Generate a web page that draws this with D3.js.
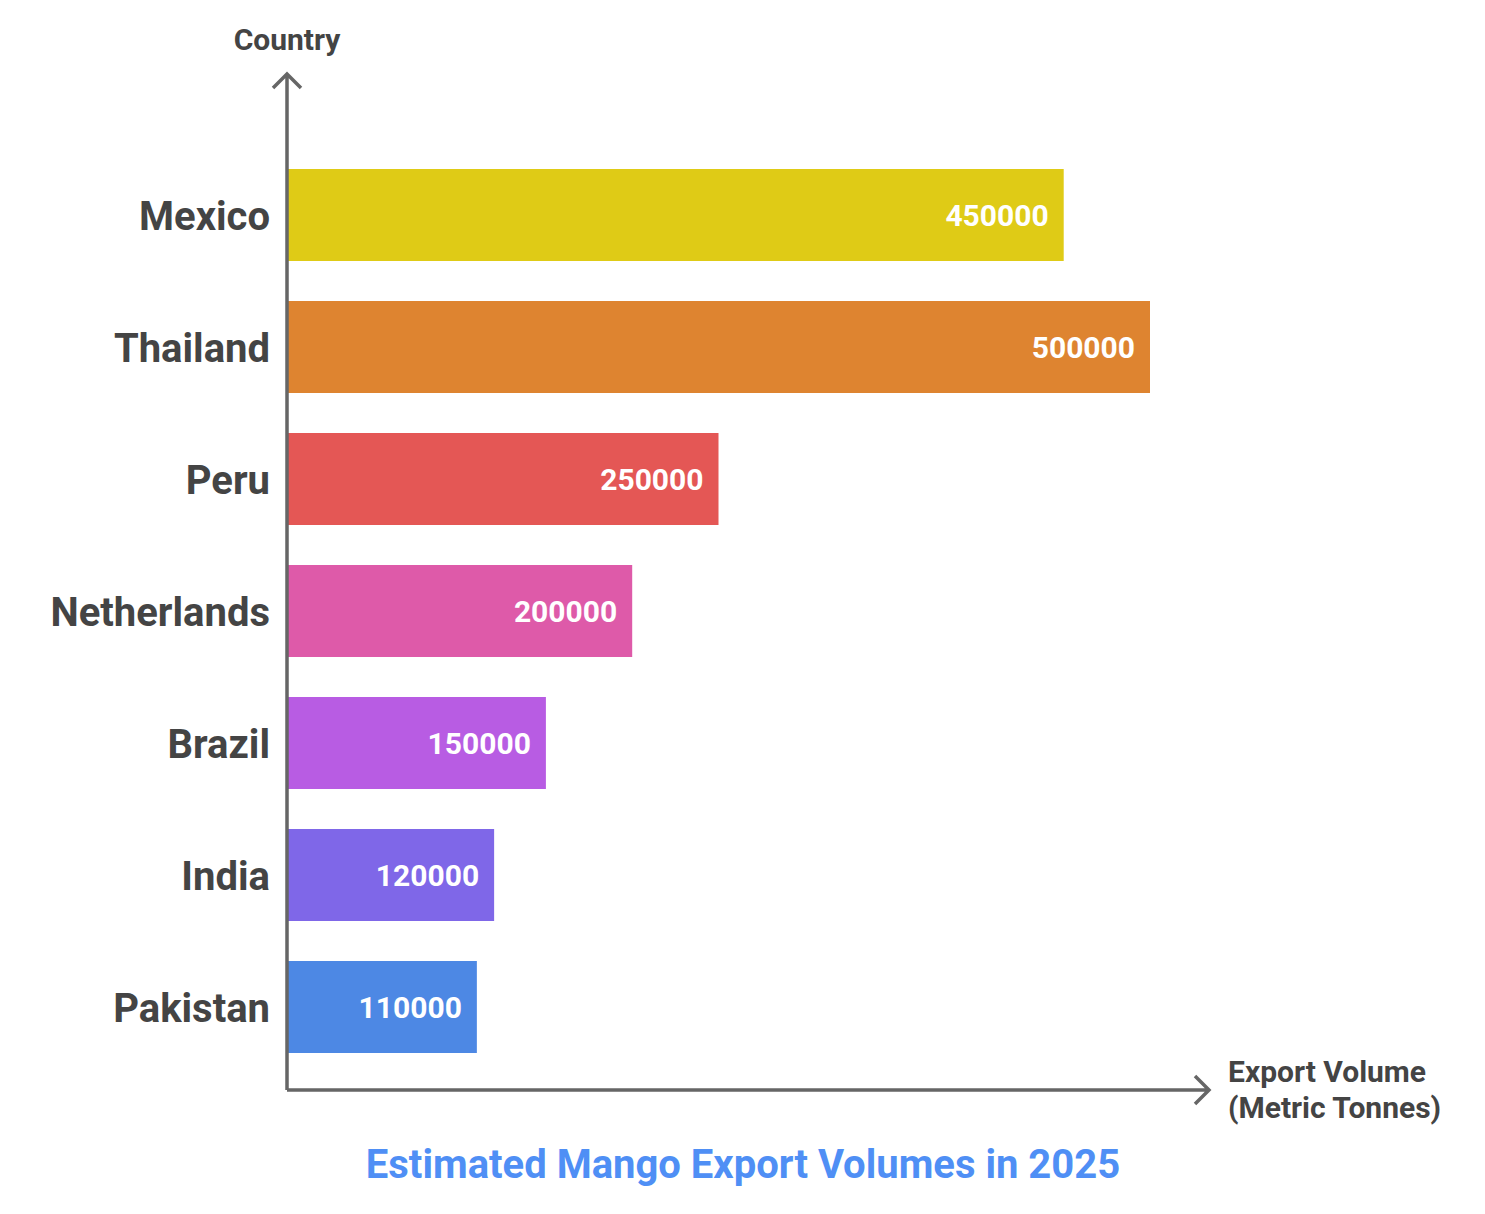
<!DOCTYPE html>
<html>
<head>
<meta charset="utf-8">
<script src="https://cdn.jsdelivr.net/npm/d3@7"></script>
<style>
  body { margin: 0; background: #fff; }
  text { font-family: Roboto, "Noto Sans", sans-serif; font-weight: 700; }
</style>
</head>
<body>
<div id="chart"></div>
<script>
// data
const countries = ["Mexico", "Thailand", "Peru", "Netherlands", "Brazil", "India", "Pakistan"];
const volumes = [450000, 500000, 250000, 200000, 150000, 120000, 110000];
const barColors = ["#dfcb16", "#de8430", "#e45755", "#de5aa9", "#b85ce3", "#7f67e8", "#4d88e4"];

const width = 1485, height = 1214;
const svg = d3.select("#chart").append("svg")
    .attr("width", width)
    .attr("height", height);

const originX = 287, originY = 1090;

const x = d3.scaleLinear()
    .domain([0, 500000])
    .range([originX, 1150]);

const pad = 40 / 132;
const y = d3.scaleBand()
    .domain(countries)
    .range([149, 1073])
    .paddingInner(pad)
    .paddingOuter(pad / 2);

// bars
svg.selectAll("rect.bar")
    .data(countries)
    .enter().append("rect")
      .attr("class", "bar")
      .attr("x", x(0))
      .attr("y", d => y(d))
      .attr("width", (d, i) => x(volumes[i]) - x(0))
      .attr("height", y.bandwidth())
      .attr("fill", (d, i) => barColors[i]);

// value labels inside bars
svg.selectAll("text.value")
    .data(countries)
    .enter().append("text")
      .attr("class", "value")
      .attr("x", (d, i) => x(volumes[i]) - 15)
      .attr("y", d => y(d) + y.bandwidth() / 2)
      .attr("dy", "0.35em")
      .attr("text-anchor", "end")
      .attr("fill", "#fff")
      .style("font-size", "30px")
      .text((d, i) => volumes[i]);

// category labels
svg.selectAll("text.cat")
    .data(countries)
    .enter().append("text")
      .attr("class", "cat")
      .attr("x", 270)
      .attr("y", d => y(d) + y.bandwidth() / 2 + 1)
      .attr("dy", "0.35em")
      .attr("text-anchor", "end")
      .attr("fill", "#444")
      .style("font-size", "40px")
      .text(d => d);

// axes with arrows
const axisColor = "#666";
svg.append("path")
    .attr("d", `M${originX},${originY} V74 M${originX - 14},88 L${originX},74 L${originX + 14},88`)
    .attr("fill", "none")
    .attr("stroke", axisColor)
    .attr("stroke-width", 3.5);

svg.append("path")
    .attr("d", `M${originX},${originY} H1209 M1195,${originY - 14} L1209,${originY} L1195,${originY + 14}`)
    .attr("fill", "none")
    .attr("stroke", axisColor)
    .attr("stroke-width", 3.5);

// axis titles
svg.append("text")
    .attr("x", originX)
    .attr("y", 50)
    .attr("text-anchor", "middle")
    .attr("fill", "#444")
    .style("font-size", "30px")
    .text("Country");

const xTitle = svg.append("text")
    .attr("x", 1228)
    .attr("y", 1082)
    .attr("fill", "#444")
    .style("font-size", "30px");
xTitle.append("tspan").attr("x", 1228).text("Export Volume");
xTitle.append("tspan").attr("x", 1228).attr("dy", 36).text("(Metric Tonnes)");

// chart title
svg.append("text")
    .attr("x", 743)
    .attr("y", 1178)
    .attr("text-anchor", "middle")
    .attr("fill", "#4f8ff5")
    .style("font-size", "40px")
    .text("Estimated Mango Export Volumes in 2025");
</script>
</body>
</html>
